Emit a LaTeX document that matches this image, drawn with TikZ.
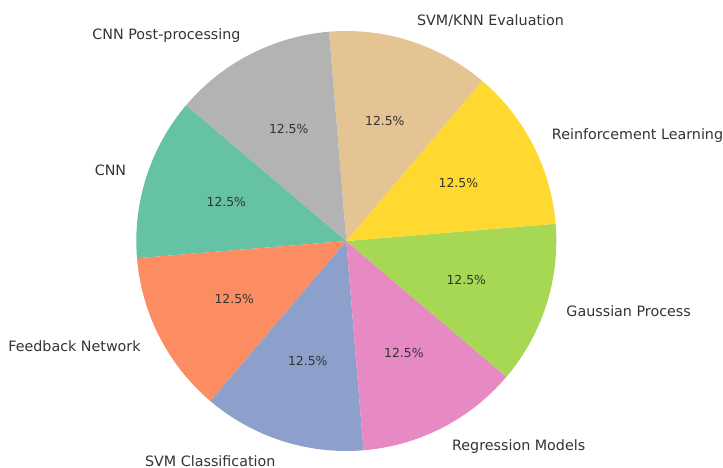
\documentclass[tikz,border=0pt]{standalone}
\usepackage{fontspec}
\setmainfont{DejaVu Sans}
\definecolor{s1}{HTML}{66C2A5}
\definecolor{s2}{HTML}{FC8D62}
\definecolor{s3}{HTML}{8DA0CB}
\definecolor{s4}{HTML}{E78AC3}
\definecolor{s5}{HTML}{A6D854}
\definecolor{s6}{HTML}{FFD92F}
\definecolor{s7}{HTML}{E5C494}
\definecolor{s8}{HTML}{B3B3B3}
\definecolor{txt}{HTML}{333333}
\begin{document}
\begin{tikzpicture}[x=1pt,y=1pt,
  lab/.style={inner sep=0pt,text=txt,font=\fontsize{14.3}{17}\selectfont},
  pct/.style={inner sep=0pt,text=txt,font=\fontsize{12.4}{15}\selectfont}]
\useasboundingbox (0,0) rectangle (723,468);
\coordinate (O) at (346.3,227);
\def\R{210}
\foreach \i/\col/\txt/\anc in {
  0/s1/CNN/east,
  1/s2/Feedback Network/east,
  2/s3/SVM Classification/east,
  3/s4/Regression Models/west,
  4/s5/Gaussian Process/west,
  5/s6/Reinforcement Learning/west,
  6/s7/SVM\slash KNN Evaluation/west,
  7/s8/CNN Post-processing/east}{
  \pgfmathsetmacro{\sa}{139.7+45*\i}
  \pgfmathsetmacro{\ma}{\sa+22.5}
  \fill[\col] (O) -- ([shift={(\sa:\R)}]O) arc[start angle=\sa, delta angle=45, radius=\R] -- cycle;
  \node[pct] (p\i) at ([shift={(\ma:126)}]O) {12.5\%};
  \node[lab,anchor=\anc] (l\i) at ([shift={(\ma:231)}]O) {\txt};
}
\end{tikzpicture}
\end{document}
